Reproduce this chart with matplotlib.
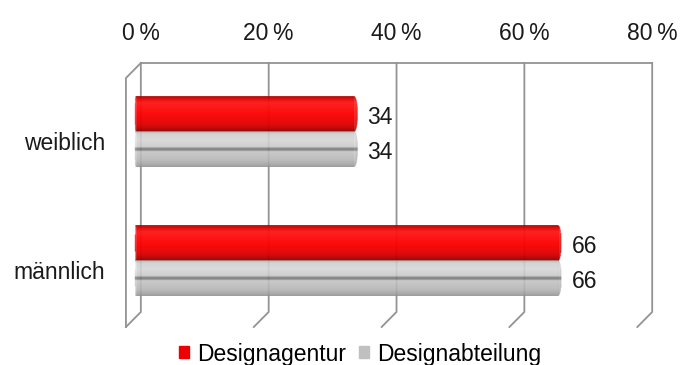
import numpy as np
import matplotlib
matplotlib.use("Agg")
import matplotlib.pyplot as plt
from matplotlib.colors import LinearSegmentedColormap
from matplotlib.patches import Patch
import matplotlib.transforms as mtransforms

plt.rcParams['font.family'] = ['Liberation Sans', 'DejaVu Sans']

# Data (percent)
categories = ["männlich", "weiblich"]
designagentur = [66, 34]
designabteilung = [66, 34]
series_names = ["Designagentur", "Designabteilung"]
xticks = [0, 20, 40, 60, 80]
xtick_labels = ["0\u2009%", "20\u2009%", "40\u2009%", "60\u2009%", "80\u2009%"]

FS = 16.5
red_base = "#f20000"
gray_base = "#c4c4c4"
wall_color = "#939393"

red_shade = LinearSegmentedColormap.from_list("red_cyl", [
    (0.00, "#9a0000"), (0.06, "#e00000"), (0.18, "#ff1a1a"),
    (0.50, "#ff0000"), (0.80, "#dc0000"), (0.93, "#a80000"), (1.00, "#700000")])
gray_shade = LinearSegmentedColormap.from_list("gray_cyl", [
    (0.00, "#aaaaaa"), (0.08, "#d2d2d2"), (0.25, "#dadada"),
    (0.44, "#cacaca"), (0.48, "#666666"), (0.53, "#666666"), (0.57, "#c4c4c4"),
    (0.82, "#b0b0b0"), (0.95, "#959595"), (1.00, "#858585")])

fig = plt.figure(figsize=(6.86, 3.65), dpi=100)
ax = fig.add_axes([137 / 686, 1 - 327 / 365, 80 * 6.44 / 686, 264 / 365])

y = np.arange(len(categories))
h = 0.275
cap = 0.55


def cylinder(ax, value, yc, cmap, alpha):
    # shaded tube with rounded ends, laid over the bar
    nx, ny = 700, 80
    xs = np.linspace(-cap, value + cap, nx)
    ys = np.linspace(0, 1, ny)
    X, T = np.meshgrid(xs, ys)
    rgba = cmap(T)
    yy = (T - 0.5) * 2
    right = (((X - value) / cap) ** 2 + yy ** 2 <= 1)
    left = ((X / cap) ** 2 * 6 + yy ** 2 <= 1.6)
    inside = ((X >= 0) & (X <= value)) | right | ((X < 0) & left)
    end = np.clip((X - value) / cap, 0, 1)
    rgba[..., :3] *= (1 - 0.15 * end)[..., None]
    rgba[..., 3] = np.where(inside, alpha, 0)
    im = ax.imshow(rgba, extent=(-cap, value + cap, yc - h / 2, yc + h / 2),
                   origin="upper", aspect="auto", zorder=3, interpolation="bilinear")
    im.set_clip_on(False)


bars_red = ax.barh(y + h / 2, designagentur, height=h, color=red_base,
                   alpha=0.7, lw=0, zorder=2, label=series_names[0])
bars_gray = ax.barh(y - h / 2, designabteilung, height=h, color=gray_base,
                    alpha=0.6, lw=0, zorder=2, label=series_names[1])

for bar in bars_red:
    cylinder(ax, bar.get_width(), bar.get_y() + h / 2, red_shade, 0.85)
for bar in bars_gray:
    cylinder(ax, bar.get_width(), bar.get_y() + h / 2, gray_shade, 0.72)

ax.set_xlim(0, 80)
ax.set_ylim(-0.512, 1.535)

# value labels
for bars in (bars_red, bars_gray):
    for bar in bars:
        ax.annotate(f"{bar.get_width():.0f}", (bar.get_width(), bar.get_y() + h / 2),
                    xytext=(9, -2), textcoords="offset points",
                    ha="left", va="center", fontsize=FS, color="#1a1a1a")

# back wall, left wall and floor lines
tr = mtransforms.blended_transform_factory(ax.transData, ax.transAxes)
back, front = 0.6, -1.73
floor_y = 0.057
lkw = dict(color=wall_color, lw=1.3, transform=tr, clip_on=False, zorder=1)
ax.plot([back, xticks[-1] + back], [1, 1], **lkw)
for v in xticks:
    ax.plot([v + back, v + back, v + front], [1, floor_y, 0], **lkw)
ax.plot([back, front, front], [1, 0.943, 0], **lkw)

for s in ax.spines.values():
    s.set_visible(False)

ax.xaxis.tick_top()
ax.set_xticks([v + back for v in xticks])
ax.set_xticklabels(xtick_labels, fontsize=FS, color="#1a1a1a")
ax.tick_params(axis="x", length=0, pad=13)
ax.set_yticks(y - 0.07)
ax.set_yticklabels(categories, fontsize=FS, color="#1a1a1a")
ax.tick_params(axis="y", length=0, pad=23)

handles = [Patch(color="#ee0000"), Patch(color="#c0c0c0")]
fig.legend(handles, series_names, loc="center", bbox_to_anchor=(360 / 686, 1 - 354 / 365),
           ncol=2, frameon=False, fontsize=FS, handlelength=0.45, handleheight=0.45,
           handletextpad=0.35, columnspacing=0.55, borderpad=0, borderaxespad=0)

fig.savefig("out.png", dpi=100)
